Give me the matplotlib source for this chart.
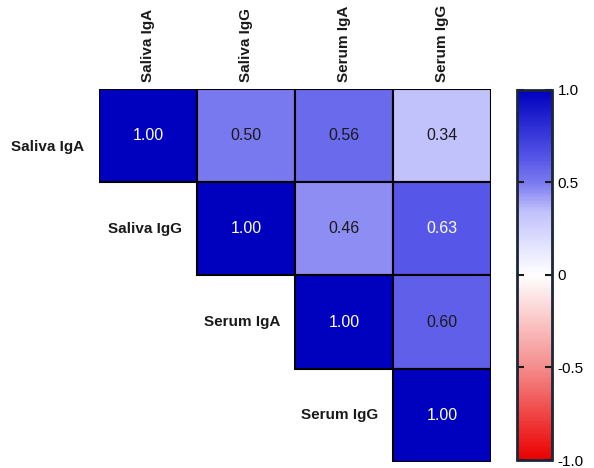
import numpy as np
import matplotlib
matplotlib.use("Agg")
import matplotlib.pyplot as plt
from matplotlib.colors import LinearSegmentedColormap, Normalize
from matplotlib.patches import Rectangle

# Correlation matrix (upper triangle shown)
labels = ["Saliva IgA", "Saliva IgG", "Serum IgA", "Serum IgG"]
row_saliva_iga = [1.00, 0.50, 0.56, 0.34]
row_saliva_igg = [np.nan, 1.00, 0.46, 0.63]
row_serum_iga = [np.nan, np.nan, 1.00, 0.60]
row_serum_igg = [np.nan, np.nan, np.nan, 1.00]
cbar_ticks = [-1.0, -0.5, 0.0, 0.5, 1.0]
cbar_ticklabels = ["-1.0", "-0.5", "0", "0.5", "1.0"]

corr = np.array([row_saliva_iga, row_saliva_igg, row_serum_iga, row_serum_igg])
n = len(labels)

plt.rcParams["font.family"] = ["Liberation Sans", "DejaVu Sans"]

cmap = LinearSegmentedColormap.from_list(
    "rwb",
    [
        (0.00, (0.92, 0.00, 0.00)),
        (0.25, (0.96, 0.55, 0.55)),
        (0.50, (1.00, 1.00, 1.00)),
        (0.67, (0.76, 0.76, 0.99)),
        (0.75, (0.48, 0.48, 0.94)),
        (0.815, (0.34, 0.34, 0.91)),
        (1.00, (0.00, 0.00, 0.75)),
    ],
)
norm = Normalize(vmin=-1, vmax=1)

fig = plt.figure(figsize=(5.94, 4.68), dpi=100)
ax = fig.add_axes([0.1667, 0.013, 0.660, 0.797])
ax.set_xlim(0, n)
ax.set_ylim(n, 0)
ax.set_axis_off()

for i in range(n):
    for j in range(n):
        v = corr[i, j]
        if np.isnan(v):
            continue
        ax.add_patch(Rectangle((j, i), 1, 1, facecolor=cmap(norm(v)),
                               edgecolor="black", linewidth=1.5))
        color = "white" if v > 0.62 else "#1a1a1a"
        ax.text(j + 0.5, i + 0.5, f"{v:.2f}", ha="center", va="center",
                fontsize=11.5, color=color)

# Row labels beside the diagonal, column labels along the top
for i, lab in enumerate(labels):
    dy = 0.12 if i == 0 else 0.0
    ax.text(i - 0.15, i + 0.5 + dy, lab, ha="right", va="center",
            fontsize=11, fontweight="bold", color="#1a1a1a")
    ax.text(i + 0.5, -0.07, lab, ha="center", va="bottom", rotation=90,
            fontsize=11, fontweight="bold", color="#1a1a1a")

# Colour bar
cax = fig.add_axes([0.870, 0.017, 0.059, 0.791])
sm = matplotlib.cm.ScalarMappable(norm=norm, cmap=cmap)
cb = fig.colorbar(sm, cax=cax)
cb.outline.set_edgecolor("#1b2638")
cb.outline.set_linewidth(2)
cb.set_ticks(cbar_ticks)
cb.set_ticklabels(cbar_ticklabels)
cax.tick_params(axis="y", direction="in", length=5, width=1.5, color="#1a1a1a",
                left=True, right=True, labelleft=False, labelright=True,
                labelsize=11, pad=4)

fig.savefig("out.png", dpi=100)
